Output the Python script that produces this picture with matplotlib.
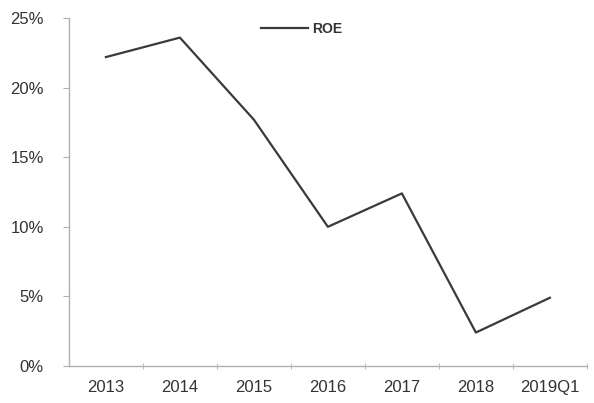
import matplotlib.pyplot as plt
from matplotlib.ticker import FuncFormatter, FixedLocator

categories = ["2013", "2014", "2015", "2016", "2017", "2018", "2019Q1"]
roe = [22.2, 23.6, 17.7, 10.0, 12.4, 2.4, 4.9]
y_ticks = [0, 5, 10, 15, 20, 25]

plt.rcParams["font.family"] = ["Liberation Sans", "DejaVu Sans"]

fig = plt.figure(figsize=(5.94, 4.03), dpi=100)
ax = fig.add_axes([0.116, 0.092, 0.872, 0.863])

x = list(range(len(categories)))
ax.plot(x, roe, color="#3a3a3a", linewidth=1.6, label="ROE")

ax.set_xlim(-0.5, len(categories) - 0.5)
ax.set_ylim(0, 25)
ax.set_yticks(y_ticks)
ax.yaxis.set_major_formatter(FuncFormatter(lambda v, _: f"{v:.0f}%"))
ax.set_xticks(x)
ax.set_xticklabels(categories)
ax.xaxis.set_minor_locator(FixedLocator([i + 0.5 for i in x]))

for side in ("top", "right"):
    ax.spines[side].set_visible(False)
for side in ("left", "bottom"):
    ax.spines[side].set_color("#b0b0b0")
    ax.spines[side].set_linewidth(1.0)

ax.tick_params(axis="y", length=4, color="#b0b0b0", labelsize=12, labelcolor="#333333", pad=14)
ax.tick_params(axis="x", which="major", length=0, labelsize=12, labelcolor="#333333", pad=10)
ax.tick_params(axis="x", which="minor", length=5, direction="inout", color="#b0b0b0")

leg = ax.legend(loc="upper center", bbox_to_anchor=(0.45, 1.025), frameon=False,
                fontsize=10, handlelength=3.4, handletextpad=0.3)
for t in leg.get_texts():
    t.set_fontweight("bold")
    t.set_color("#333333")

fig.savefig("out.png", dpi=100)
